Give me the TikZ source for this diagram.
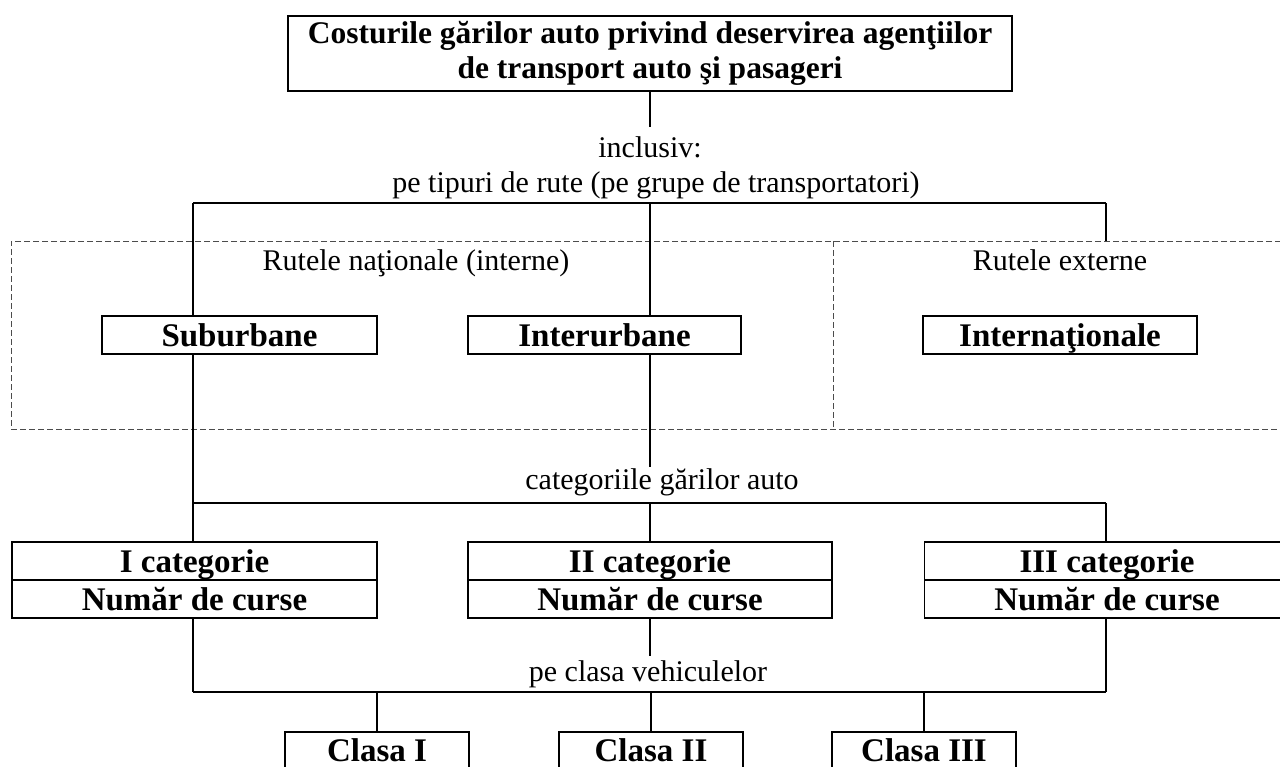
\documentclass[tikz,border=0pt]{standalone}
\usepackage{fontspec}
\setmainfont{Liberation Serif}
\begin{document}
\begin{tikzpicture}[x=1pt,y=-1pt,
  every node/.style={font=\fontsize{30}{37}\selectfont, inner sep=0pt},
  lbl/.style={anchor=base},
  box/.style={draw, line width=1.8pt, font=\fontsize{33}{35}\selectfont\bfseries, text height=22pt, text depth=0pt},
  ln/.style={line width=1.8pt},
  dbox/.style={draw=black!70, line width=1pt, dash pattern=on 6pt off 3pt}]
\useasboundingbox (0,0) rectangle (1280,766);
\clip (0,0) rectangle (1280,766);
% dashed region
\node[dbox, minimum width=1279, minimum height=188] (reg) at (650.5,335) {};
\coordinate (dv1) at (833,241);
\coordinate (dv2) at (833,429);
\draw[dbox] (dv1) -- (dv2);
% top
\node[draw, line width=1.8pt, font=\fontsize{31.5}{35}\selectfont\bfseries, minimum width=724, minimum height=75, align=center] (top) at (650,53.5) {Costurile gărilor auto privind deservirea agenţiilor\\de transport auto şi pasageri};
\node[lbl] (incl) at (650,157) {inclusiv:};
\node[lbl] (tip) at (656,192) {pe tipuri de rute (pe grupe de transportatori)};
\node[lbl] (rn) at (416,270) {Rutele naţionale (interne)};
\node[lbl] (re) at (1060,270) {Rutele externe};
\node[box, minimum width=275, minimum height=38] (sub) at (239.5,335) {Suburbane};
\node[box, minimum width=273, minimum height=38] (int) at (604.5,335) {Interurbane};
\node[box, minimum width=274, minimum height=38] (intl) at (1060,335) {Internaţionale};
\node[lbl] (cat) at (662,489) {categoriile gărilor auto};
\node[box, minimum width=365, minimum height=38] (c1a) at (194.5,561) {I categorie};
\node[box, minimum width=365, minimum height=38] (c1b) at (194.5,599) {Număr de curse};
\node[box, minimum width=364, minimum height=38] (c2a) at (650,561) {II categorie};
\node[box, minimum width=364, minimum height=38] (c2b) at (650,599) {Număr de curse};
\node[box, minimum width=365, minimum height=38] (c3a) at (1107,561) {III categorie};
\node[box, minimum width=365, minimum height=38] (c3b) at (1107,599) {Număr de curse};
\node[lbl] (cls) at (648,681) {pe clasa vehiculelor};
\node[box, minimum width=184, minimum height=36] (k1) at (377,750) {Clasa I};
\node[box, minimum width=184, minimum height=36] (k2) at (651,750) {Clasa II};
\node[box, minimum width=184, minimum height=36] (k3) at (924,750) {Clasa III};
% connectors
\coordinate (a1) at (650,127);
\draw[ln] (top.south) -- (a1);
\coordinate (hL) at (193,203);
\coordinate (hM) at (650,203);
\coordinate (hR) at (1106,203);
\draw[ln] (hL) -- (hR);
\draw[ln] (hL) -- (hL |- sub.north);
\draw[ln] (hM) -- (hM |- int.north);
\draw[ln] (hR) -- (hR |- reg.north);
\draw[ln] (hL |- sub.south) -- (hL |- c1a.north);
\coordinate (b1) at (650,467);
\draw[ln] (hM |- int.south) -- (b1);
\coordinate (gL) at (193,503);
\coordinate (gR) at (1106,503);
\draw[ln] (gL) -- (gR);
\draw[ln] (gL -| c2a.north) -- (c2a.north);
\draw[ln] (gR) -- (gR |- c3a.north);
\coordinate (b2) at (650,656);
\draw[ln] (c2b.south) -- (b2);
\coordinate (kL) at (193,692);
\coordinate (kR) at (1106,692);
\draw[ln] (kL |- c1b.south) -- (kL);
\draw[ln] (kR |- c3b.south) -- (kR);
\draw[ln] (kL) -- (kR);
\draw[ln] (kL -| k1.north) -- (k1.north);
\draw[ln] (kL -| k2.north) -- (k2.north);
\draw[ln] (kL -| k3.north) -- (k3.north);
\end{tikzpicture}
\end{document}
